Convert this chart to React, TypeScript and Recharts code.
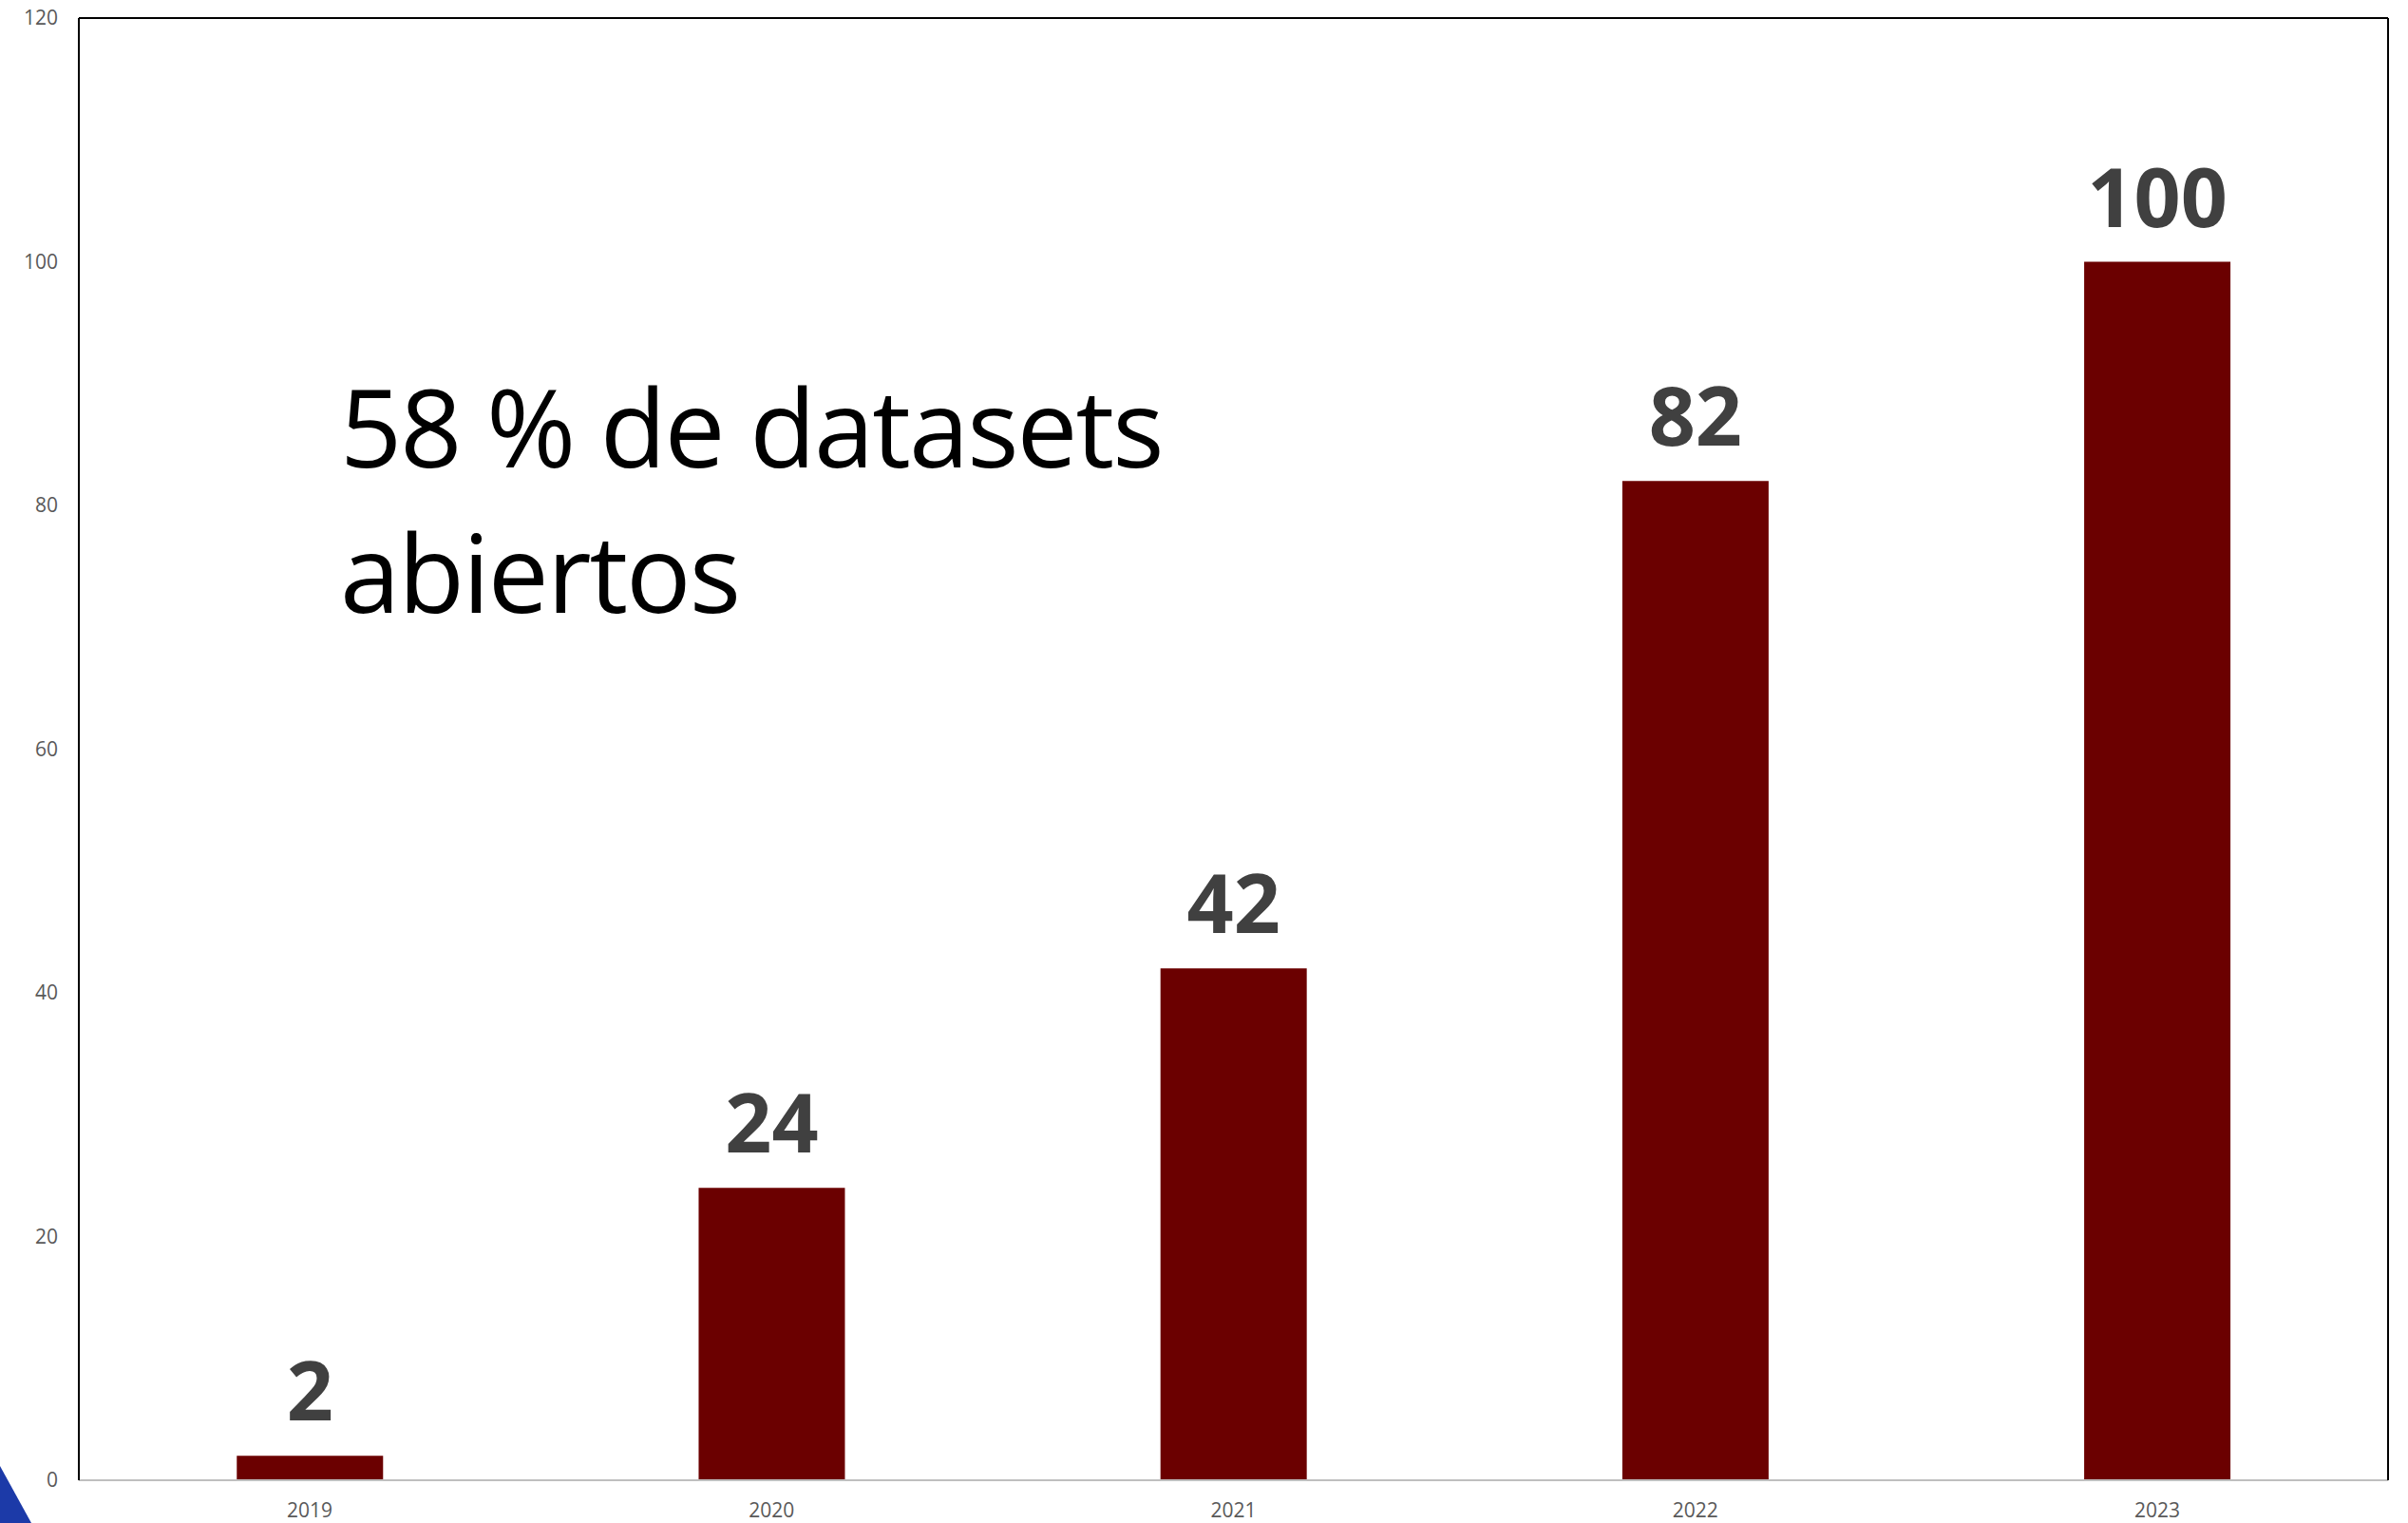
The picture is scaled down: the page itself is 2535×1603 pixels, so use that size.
import React from "react";
import {
  BarChart,
  Bar,
  XAxis,
  YAxis,
  CartesianGrid,
  LabelList,
  ReferenceLine,
} from "recharts";

const years = ["2019", "2020", "2021", "2022", "2023"];
const datasets = [2, 24, 42, 82, 100];
const yTicks = [0, 20, 40, 60, 80, 100, 120];
const noteLines = ["58 % de datasets", "abiertos"];

const data = years.map((year, i) => ({ year, value: datasets[i] }));

const FONT = "'Open Sans', 'Noto Sans', sans-serif";
const NOTE_SIZE = 114;

export default function App() {
  return (
    <div
      style={{
        position: "absolute",
        left: 0,
        top: 0,
        width: 2535,
        height: 1603,
        background: "#ffffff",
        overflow: "hidden",
        fontFamily: FONT,
      }}
    >
      <BarChart
        width={2535}
        height={1603}
        data={data}
        margin={{ top: 19, right: 0, bottom: 0, left: 0 }}
        barCategoryGap="34.2%"
      >
        <CartesianGrid
          vertical={false}
          stroke="#d9d9d9"
          strokeWidth={1.5}
        />
        <XAxis
          dataKey="year"
          height={45}
          axisLine={{ stroke: "#bfbfbf", strokeWidth: 2 }}
          tickLine={false}
          tickSize={0}
          tickMargin={24}
          tick={{ fill: "#595959", fontSize: 21, fontFamily: FONT }}
        />
        <YAxis
          yAxisId="left"
          width={83}
          domain={[0, 120]}
          ticks={yTicks}
          axisLine={{ stroke: "#000000", strokeWidth: 2 }}
          tickLine={false}
          tickSize={0}
          tickMargin={22}
          tick={{ fill: "#595959", fontSize: 21, fontFamily: FONT }}
        />
        <YAxis
          yAxisId="right"
          orientation="right"
          width={21}
          domain={[0, 120]}
          ticks={yTicks}
          axisLine={{ stroke: "#000000", strokeWidth: 2 }}
          tickLine={false}
          tick={false}
        />
        <ReferenceLine
          yAxisId="left"
          y={120}
          stroke="#000000"
          strokeWidth={2}
        />
        <Bar
          yAxisId="left"
          dataKey="value"
          fill="#6b0000"
          isAnimationActive={false}
        >
          <LabelList
            dataKey="value"
            position="top"
            offset={37}
            fill="#404040"
            fontSize={86}
            fontWeight={700}
            fontFamily={FONT}
          />
        </Bar>
      </BarChart>
      <div
        style={{
          position: "absolute",
          left: 358,
          top: 0,
          fontFamily: FONT,
          fontSize: NOTE_SIZE,
          letterSpacing: -2,
          color: "#000000",
          pointerEvents: "none",
        }}
      >
        {noteLines.map((line, i) => (
          <div
            key={i}
            style={{
              position: "absolute",
              left: 0,
              top: 492 + i * 153 - NOTE_SIZE * 0.888,
              lineHeight: 1,
              whiteSpace: "nowrap",
            }}
          >
            {line}
          </div>
        ))}
      </div>
      <svg
        width={40}
        height={70}
        style={{ position: "absolute", left: 0, top: 1533 }}
      >
        <polygon points="0,10 33,70 0,70" fill="#1c3aa8" />
      </svg>
    </div>
  );
}
